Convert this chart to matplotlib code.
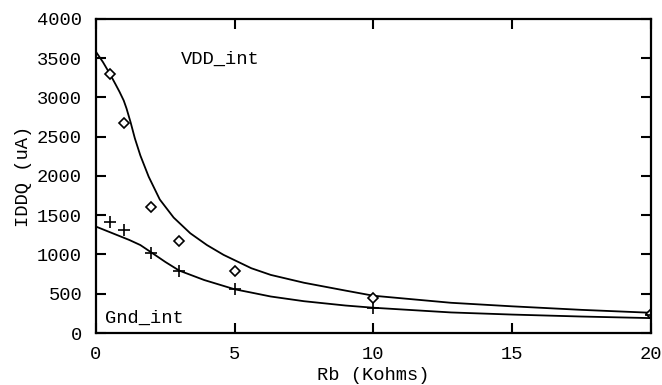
import matplotlib.pyplot as plt
import numpy as np

# measured points
rb_pts = [0.5, 1, 2, 3, 5, 10, 20]
vdd_pts = [3300, 2670, 1610, 1170, 785, 445, 240]
gnd_pts = [1415, 1310, 1020, 795, 557, 320, 230]

# fitted curves
vdd_x = [0, 0.25, 0.5, 0.7, 0.85, 1.0, 1.1, 1.25, 1.4, 1.6, 1.9, 2.3, 2.8, 3.4, 4.0, 4.6, 5.6, 6.3, 7.5, 9.0, 10.0, 12.8, 15.0, 17.5, 20.0]
vdd_y = [3580, 3450, 3300, 3170, 3070, 2960, 2860, 2680, 2480, 2260, 1990, 1700, 1470, 1270, 1120, 995, 825, 740, 640, 540, 475, 385, 340, 295, 258]
gnd_x = [0, 0.6, 1.2, 1.6, 2.0, 2.5, 3.0, 3.9, 5.0, 5.6, 6.3, 7.5, 9.0, 10.0, 12.8, 15.0, 17.5, 20.0]
gnd_y = [1355, 1270, 1185, 1120, 1025, 905, 795, 675, 557, 515, 465, 405, 350, 322, 262, 235, 210, 190]

plt.rcParams['font.family'] = ['Liberation Mono', 'DejaVu Sans Mono']
plt.rcParams['font.size'] = 13.5

fig = plt.figure(figsize=(6.62, 3.85), dpi=100)
ax = fig.add_axes([0.145, 0.135, 0.838, 0.816])

ax.plot(vdd_x, vdd_y, 'k-', lw=1.3)
ax.plot(gnd_x, gnd_y, 'k-', lw=1.3)
ax.plot(rb_pts, vdd_pts, 'D', ms=5, mfc='white', mec='k', mew=1.2, ls='none')
ax.plot(rb_pts, gnd_pts, '+', ms=8, mec='k', mew=1.2, ls='none')

ax.text(3.05, 3490, 'VDD_int', va='center', ha='left')
ax.text(0.33, 190, 'Gnd_int', va='center', ha='left')

ax.set_xlim(0, 20)
ax.set_ylim(0, 4000)
ax.set_xticks([0, 5, 10, 15, 20])
ax.set_yticks(np.arange(0, 4001, 500))
ax.tick_params(direction='in', length=7, width=1.5, top=True, right=True, pad=9)
ax.tick_params(axis='y', pad=10)
for s in ax.spines.values():
    s.set_linewidth(1.6)
ax.set_xlabel('Rb (Kohms)', labelpad=3)
ax.set_ylabel('IDDQ (uA)', labelpad=4)

fig.savefig('out.png', dpi=100)
